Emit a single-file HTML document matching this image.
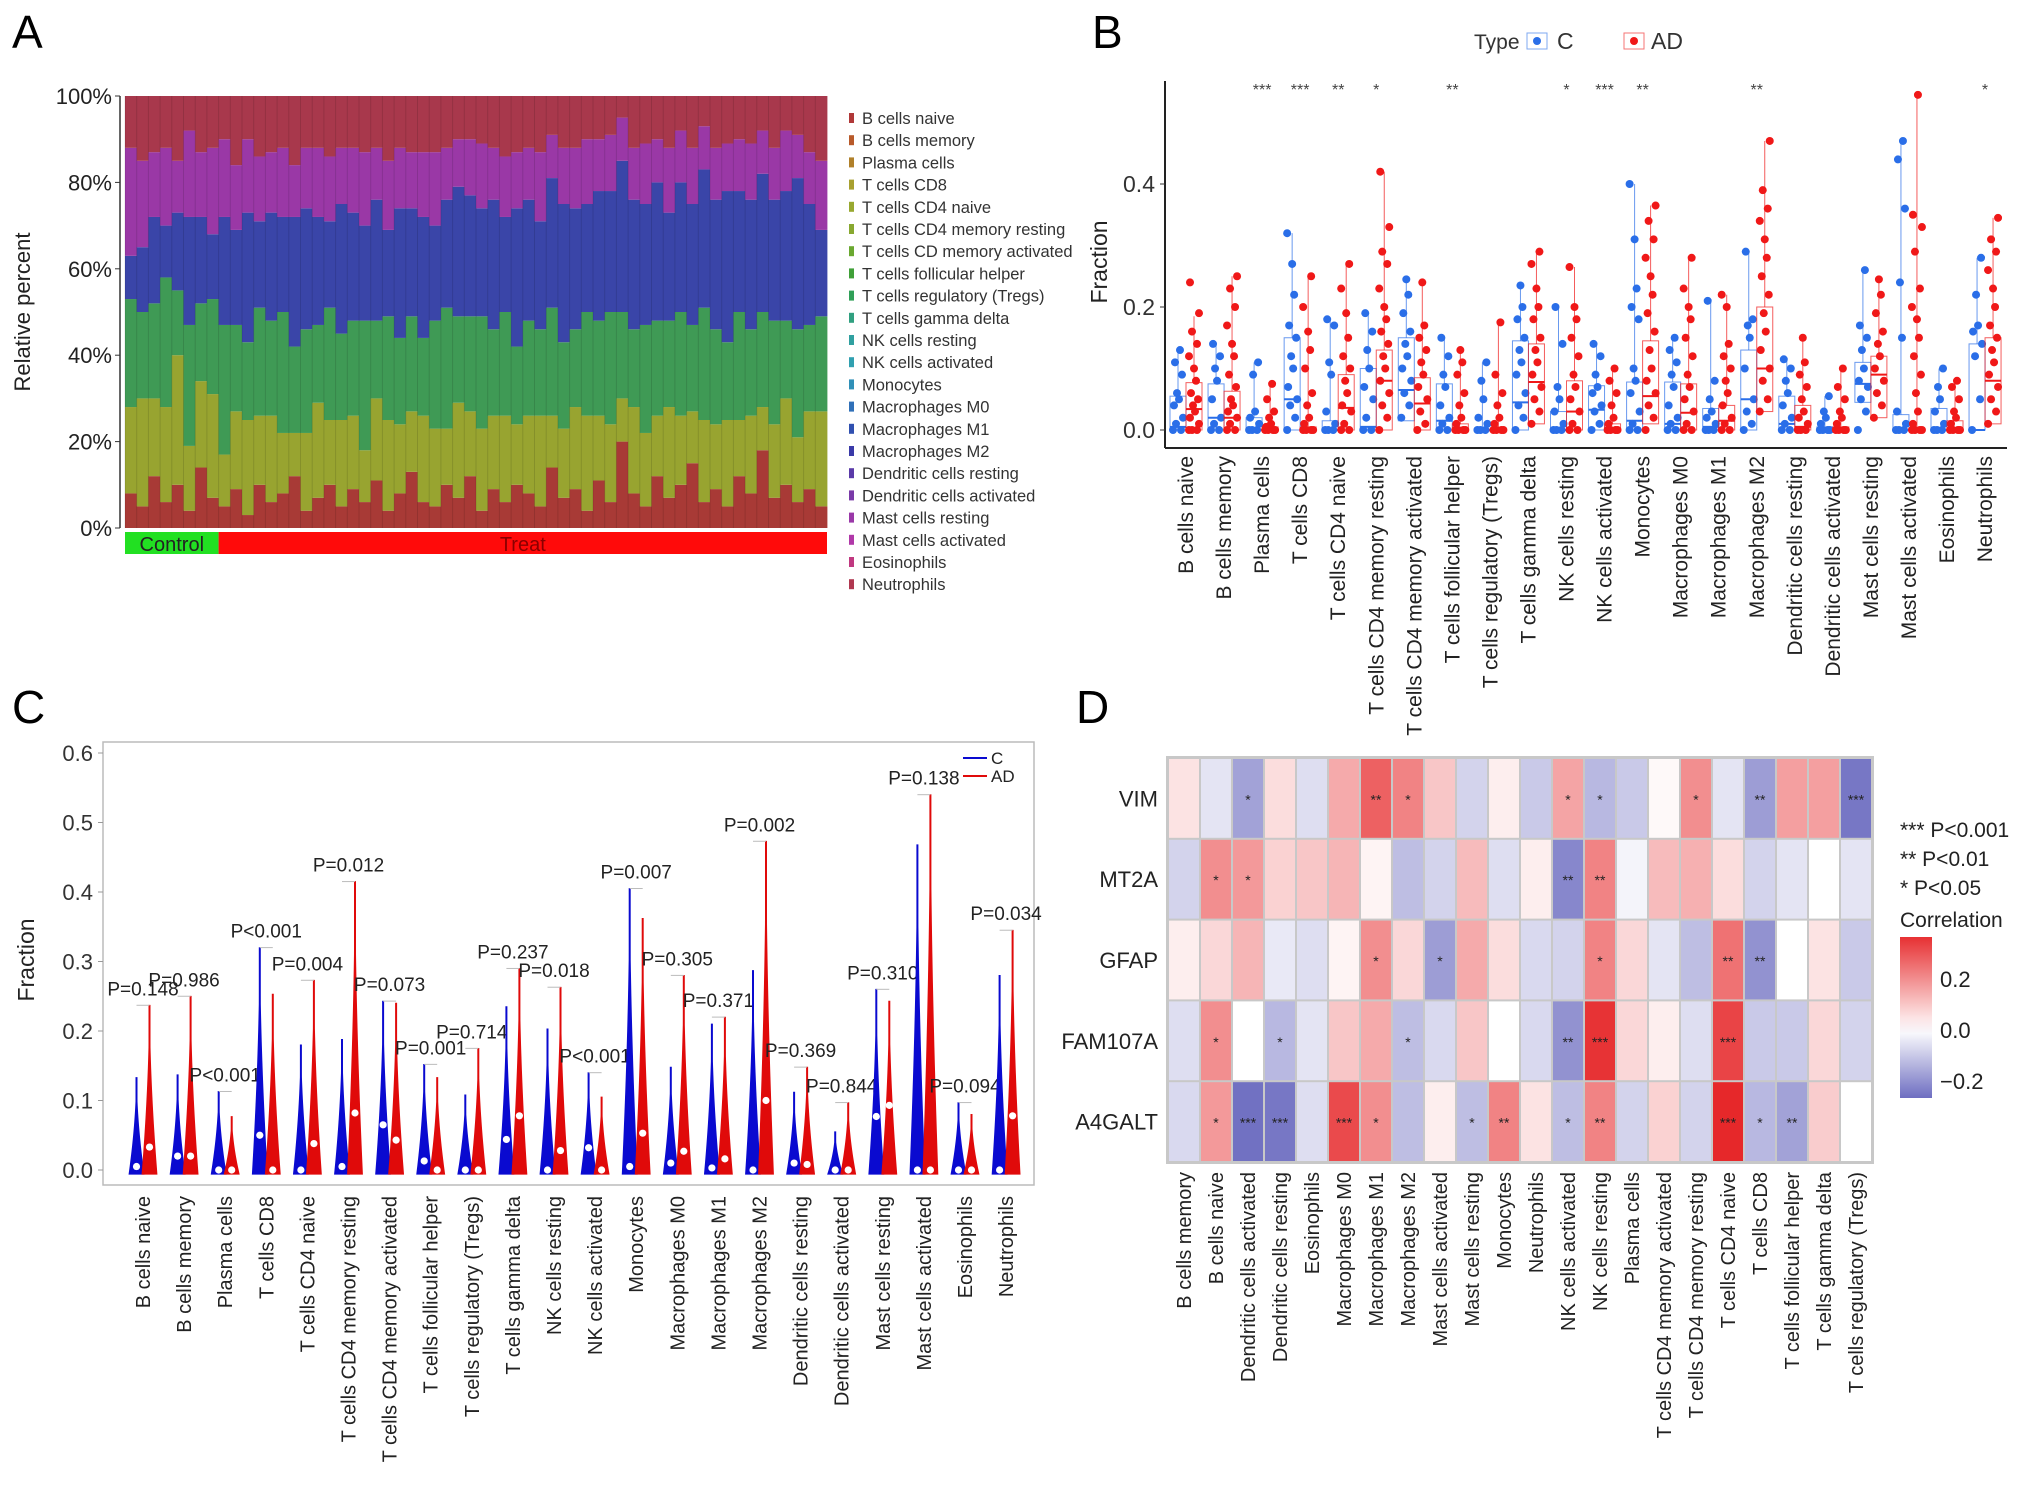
<!DOCTYPE html>
<html><head><meta charset="utf-8"><style>
html,body{margin:0;padding:0;background:#fff}
svg{display:block;font-family:"Liberation Sans",sans-serif}
</style></head><body>
<svg id="fig" width="2032" height="1486" viewBox="0 0 2032 1486" xmlns="http://www.w3.org/2000/svg">
<rect width="2032" height="1486" fill="#fff"/>
<text x="12" y="48" font-size="46">A</text>
<text x="1092" y="48" font-size="46">B</text>
<text x="12" y="723" font-size="46">C</text>
<text x="1076" y="723" font-size="46">D</text>
<g id="pA"></g>
<g id="pB"></g>
<g id="pC"></g>
<g id="pD"></g>
</svg>
<script>
// ---------- shared data ----------
const cellTypes = ["B cells naive","B cells memory","Plasma cells","T cells CD8","T cells CD4 naive","T cells CD4 memory resting","T cells CD4 memory activated","T cells follicular helper","T cells regulatory (Tregs)","T cells gamma delta","NK cells resting","NK cells activated","Monocytes","Macrophages M0","Macrophages M1","Macrophages M2","Dendritic cells resting","Dendritic cells activated","Mast cells resting","Mast cells activated","Eosinophils","Neutrophils"];
const legendA = ["B cells naive","B cells memory","Plasma cells","T cells CD8","T cells CD4 naive","T cells CD4 memory resting","T cells CD memory activated","T cells follicular helper","T cells regulatory (Tregs)","T cells gamma delta","NK cells resting","NK cells activated","Monocytes","Macrophages M0","Macrophages M1","Macrophages M2","Dendritic cells resting","Dendritic cells activated","Mast cells resting","Mast cells activated","Eosinophils","Neutrophils"];
const legendAColors = ["#b03838","#b85a2a","#b0802a","#a8a030","#98a830","#88a830","#6aa830","#40a038","#30a058","#30a080","#30a0a0","#30a0b0","#3090b8","#3070b8","#3050b0","#3a3aa8","#5a3aa8","#7a3aa8","#9a38a8","#b038a8","#c03880","#b03850"];
// Panel A sample layers (fractions)
const nControl = 8;
const layerRed = [.08,.05,.12,.06,.1,.04,.14,.07,.05,.09,.03,.1,.06,.08,.12,.04,.07,.1,.05,.09,.06,.11,.04,.08,.13,.06,.05,.1,.07,.12,.04,.09,.06,.1,.08,.05,.14,.07,.09,.04,.11,.06,.2,.08,.05,.12,.07,.1,.15,.06,.09,.05,.12,.08,.18,.07,.1,.06,.09,.05];
const layerYG = [.2,.25,.18,.22,.3,.15,.2,.24,.12,.18,.22,.16,.2,.14,.1,.18,.22,.15,.2,.17,.12,.19,.21,.16,.14,.2,.18,.13,.22,.15,.19,.17,.2,.14,.18,.21,.12,.16,.19,.22,.15,.18,.1,.2,.17,.14,.21,.16,.12,.19,.15,.2,.13,.18,.1,.17,.2,.15,.18,.22];
const layerGreen = [.25,.2,.22,.3,.15,.28,.18,.22,.3,.2,.18,.25,.22,.28,.2,.24,.18,.26,.2,.22,.3,.18,.24,.2,.22,.18,.25,.28,.2,.22,.26,.2,.24,.18,.22,.2,.25,.2,.18,.24,.22,.26,.2,.18,.25,.22,.2,.24,.2,.26,.22,.18,.25,.2,.22,.24,.18,.25,.2,.22];
const layerBlue = [.1,.15,.2,.12,.18,.25,.2,.15,.25,.22,.3,.2,.25,.22,.3,.28,.25,.2,.3,.25,.22,.28,.2,.3,.25,.28,.22,.25,.3,.28,.25,.3,.22,.32,.28,.25,.3,.32,.28,.25,.3,.28,.35,.3,.28,.32,.25,.3,.28,.32,.3,.35,.28,.3,.32,.28,.3,.35,.28,.2];
const layerPurple = [.25,.2,.15,.18,.12,.2,.15,.2,.18,.15,.17,.15,.14,.16,.12,.14,.16,.15,.13,.15,.17,.12,.16,.14,.13,.15,.17,.12,.11,.13,.15,.12,.14,.13,.12,.16,.1,.13,.14,.15,.12,.13,.1,.12,.14,.1,.15,.12,.13,.1,.12,.11,.12,.13,.1,.12,.14,.1,.12,.16];
const pctTicks = ["0%","20%","40%","60%","80%","100%"];
// Panel B
const bTicks = [0, 0.2, 0.4];
const cQ1 = [0,0,0,0,0,0,.015,0,0,0,0,0,0,0,0,0,0,0,.045,0,0,0];
const cMed = [.005,.02,0,.05,0,.005,.065,.015,0,.045,0,.033,.015,.01,.005,.05,.01,0,.075,0,0,0];
const cQ3 = [.055,.075,.02,.15,.015,.1,.15,.075,0,.145,.03,.072,.078,.078,.035,.13,.055,.005,.11,.025,.035,.14];
const cMax = [.13,.14,.11,.32,.18,.19,.245,.15,.11,.235,.2,.14,.4,.15,.21,.29,.115,.055,.26,.47,.1,.28];
const adQ1 = [0,0,0,0,0,0,0,0,0,.01,0,0,.01,0,0,.03,0,0,.02,0,0,.01];
const adMed = [.034,.02,0,0,.036,.08,.043,0,0,.078,.03,0,.055,.028,.015,.1,.005,0,.09,0,0,.08];
const adQ3 = [.077,.063,.005,.005,.09,.13,.085,.01,0,.14,.08,.01,.145,.075,.04,.2,.04,.005,.12,0,.015,.15];
const adMax = [.185,.25,.075,.25,.27,.42,.24,.13,.175,.29,.265,.1,.365,.28,.22,.47,.15,.1,.245,.545,.08,.345];
const sigB = ["","","***","***","**","*","","**","","","*","***","**","","","**","","","","","","*"];
const cPts = [[0,0,.01,.02,.04,.05,.06,.09,.11,.13],[0,0,.01,.02,.05,.08,.1,.12,.14],[0,0,0,.01,.02,.03,.09,.11],[0,.02,.04,.05,.07,.1,.12,.15,.17,.22,.27,.32],[0,0,0,.01,.03,.09,.11,.17,.18],[0,0,.02,.05,.07,.1,.13,.16,.19],[.02,.04,.06,.08,.1,.12,.14,.16,.19,.22,.245],[0,0,.01,.02,.04,.07,.09,.12,.15],[0,0,0,.01,.02,.05,.08,.11],[0,.02,.04,.06,.09,.11,.13,.15,.18,.2,.235],[0,0,0,.01,.03,.05,.07,.14,.2],[0,.01,.03,.04,.06,.07,.09,.12,.14],[0,0,.01,.03,.06,.08,.1,.18,.2,.23,.31,.4],[0,0,.01,.02,.04,.07,.09,.11,.13,.15],[0,0,0,.01,.02,.03,.05,.08,.21],[0,.01,.03,.05,.1,.15,.17,.18,.29],[0,0,.01,.02,.04,.06,.08,.1,.115],[0,0,0,0,.01,.02,.03,.055],[0,.03,.05,.07,.08,.1,.13,.15,.17,.26],[0,0,0,.01,.03,.15,.24,.36,.44,.47],[0,0,0,.01,.03,.05,.07,.1],[0,.05,.12,.14,.16,.17,.22,.28]];
const adPts = [[0,0,0,.01,.02,.03,.04,.05,.06,.08,.1,.12,.14,.16,.19,.24],[0,0,.01,.02,.03,.04,.05,.07,.09,.12,.14,.17,.2,.23,.25],[0,0,0,0,.005,.01,.02,.03,.05,.075],[0,0,0,0,.01,.02,.04,.06,.1,.13,.16,.2,.25],[0,0,.01,.03,.04,.06,.08,.1,.12,.15,.19,.23,.27],[0,.02,.04,.06,.08,.1,.12,.14,.16,.18,.2,.23,.27,.29,.33,.42],[0,.01,.03,.05,.07,.09,.11,.13,.15,.17,.24],[0,0,0,0,.01,.02,.04,.06,.09,.11,.13],[0,0,0,0,.01,.02,.04,.06,.09,.175],[.01,.03,.05,.07,.09,.11,.13,.15,.18,.2,.23,.27,.29],[0,0,.01,.03,.05,.07,.09,.12,.15,.18,.2,.265],[0,0,0,0,.01,.02,.04,.06,.08,.1],[0,.02,.04,.06,.08,.1,.13,.16,.19,.22,.25,.28,.31,.34,.365],[0,0,.01,.03,.05,.07,.09,.12,.15,.18,.2,.23,.28],[0,0,.01,.02,.04,.06,.08,.1,.12,.14,.2,.22],[.03,.05,.08,.1,.13,.16,.19,.22,.25,.28,.31,.34,.36,.39,.47],[0,0,0,.01,.02,.03,.05,.07,.09,.11,.15],[0,0,0,0,.01,.02,.03,.05,.07,.1],[.02,.04,.06,.08,.1,.12,.14,.16,.19,.22,.245],[0,0,0,0,.01,.03,.06,.09,.12,.15,.18,.2,.23,.29,.33,.35,.545],[0,0,0,0,.01,.02,.03,.05,.07,.08],[.01,.03,.05,.07,.09,.11,.13,.15,.17,.2,.23,.26,.29,.31,.345]];
// Panel C
const cTicks = [0,0.1,0.2,0.3,0.4,0.5,0.6];
const vioCMax = [.133,.137,.113,.32,.18,.188,.243,.152,.108,.235,.203,.14,.405,.148,.21,.287,.112,.055,.26,.468,.097,.28];
const vioCMed = [.005,.02,0,.05,0,.005,.065,.013,0,.044,0,.032,.005,.01,.003,0,.01,0,.077,0,0,0];
const vioADMax = [.237,.25,.077,.253,.273,.415,.24,.133,.175,.29,.263,.105,.362,.28,.22,.473,.148,.097,.243,.54,.08,.345];
const vioADMed = [.033,.02,0,0,.038,.082,.043,0,0,.078,.028,0,.053,.027,.016,.1,.008,0,.093,0,0,.078];
const pLabels = ["P=0.148","P=0.986","P<0.001","P<0.001","P=0.004","P=0.012","P=0.073","P=0.001","P=0.714","P=0.237","P=0.018","P<0.001","P=0.007","P=0.305","P=0.371","P=0.002","P=0.369","P=0.844","P=0.310","P=0.138","P=0.094","P=0.034"];
// Panel D
const genes = ["VIM","MT2A","GFAP","FAM107A","A4GALT"];
const dCols = ["B cells memory","B cells naive","Dendritic cells activated","Dendritic cells resting","Eosinophils","Macrophages M0","Macrophages M1","Macrophages M2","Mast cells activated","Mast cells resting","Monocytes","Neutrophils","NK cells activated","NK cells resting","Plasma cells","T cells CD4 memory activated","T cells CD4 memory resting","T cells CD4 naive","T cells CD8","T cells follicular helper","T cells gamma delta","T cells regulatory (Tregs)"];
const corVIM = [.05,-.05,-.17,.06,-.06,.15,.28,.22,.1,-.08,.03,-.1,.16,-.13,-.1,.01,.2,-.05,-.18,.17,.17,-.25];
const corMT2A = [-.08,.2,.18,.08,.1,.13,.02,-.12,-.08,.12,-.06,.03,-.22,.22,-.02,.12,.14,.06,-.08,-.05,0,-.05];
const corGFAP = [.03,.07,.13,-.04,-.06,.02,.2,.07,-.18,.15,.06,-.07,-.08,.22,.07,-.05,-.12,.25,-.2,0,.05,-.1];
const corFAM = [-.06,.2,0,-.13,-.05,.1,.15,-.12,-.07,.1,0,-.07,-.2,.36,.07,.03,-.06,.33,-.1,-.1,.07,-.08];
const corA4 = [-.07,.18,-.26,-.25,-.06,.32,.2,-.12,.03,-.12,.22,.05,-.12,.22,-.08,.08,-.08,.38,-.13,-.17,.09,0];
const sigVIM = ["","","*","","","","**","*","","","","","*","*","","","*","","**","","","***"];
const sigMT2A = ["","*","*","","","","","","","","","","**","**","","","","","","","",""];
const sigGFAP = ["","","","","","","*","","*","","","","","*","","","","**","**","","",""];
const sigFAM = ["","*","","*","","","","*","","","","","**","***","","","","***","","","",""];
const sigA4 = ["","*","***","***","","***","*","","","*","**","","*","**","","","","***","*","**","",""];
const corTicks = [0.2,0,-0.2];
const corTickLabels = ["0.2","0.0","\u22120.2"];

const NS="http://www.w3.org/2000/svg";
function mk(tag, attrs, parent, txt){const e=document.createElementNS(NS,tag);for(const k in attrs)e.setAttribute(k,attrs[k]);if(txt!==undefined)e.textContent=txt;parent.appendChild(e);return e;}

// ---------- Panel A ----------
(function(){
const g=document.getElementById('pA');
const L=125,R=827,T=96,B=528;
const yA=v=>B-v*(B-T);
const n=layerRed.length, bw=(R-L)/n;
const bandColors=["#a83a36","#98a430","#3f9a55","#3a45a8","#9a38a6","#a8384c"];
for(let i=0;i<n;i++){
  const vals=[layerRed[i],layerYG[i],layerGreen[i],layerBlue[i],layerPurple[i]];
  let sum=vals.reduce((a,b)=>a+b,0); vals.push(Math.max(0,1-sum));
  let acc=0;
  for(let k=0;k<6;k++){
    const r=mk('rect',{x:(L+i*bw).toFixed(2),y:yA(acc+vals[k]).toFixed(2),width:(bw+0.4).toFixed(2),height:(vals[k]*(B-T)).toFixed(2),fill:bandColors[k]},g);
    
    
    acc+=vals[k];
  }
  const sep=mk('line',{x1:L+i*bw,x2:L+i*bw,y1:T,y2:B,stroke:'rgba(0,0,0,0.12)','stroke-width':1},g);
  
  
}
const ax=mk('line',{x1:120,x2:120,y1:T,y2:B,stroke:'#333','stroke-width':1.5},g);

pctTicks.forEach((t,i)=>{const v=i/5;
  const tk=mk('line',{x1:115,x2:120,y1:yA(v),y2:yA(v),stroke:'#333'},g);
  
  const tl=mk('text',{x:112,y:yA(v)+8,'text-anchor':'end','font-size':22,fill:'#222'},g,t);
  
});
const yt=mk('text',{x:0,y:0,transform:'translate(30,312) rotate(-90)','text-anchor':'middle','font-size':22,fill:'#222'},g,'Relative percent');

const cw=nControl*bw;
const cb=mk('rect',{x:L,y:532,width:cw,height:22,fill:'#22e022'},g);

const tb=mk('rect',{x:L+cw,y:532,width:R-L-cw,height:22,fill:'#ff0a0a'},g);

const ct=mk('text',{x:L+cw/2,y:551,'text-anchor':'middle','font-size':20,fill:'#222'},g,'Control');

const tt=mk('text',{x:L+cw+(R-L-cw)/2,y:551,'text-anchor':'middle','font-size':20,fill:'#8a0000'},g,'Treat');

legendA.forEach((s,i)=>{const y=118+i*22.2;
  const m=mk('rect',{x:849,y:y-5,width:5,height:10,fill:legendAColors[i]},g);
  
  const t=mk('text',{x:862,y:y+6,'font-size':16.5,fill:'#333'},g,s);
  
});
})();

// ---------- Panel B ----------
(function(){
const g=document.getElementById('pB');
const L=1165,R=2007,y0=430,pxPer=615; // px per 1.0
const yB=v=>y0-v*pxPer;
const xB=i=>1186+i*38.05;
const a1=mk('line',{x1:L,x2:L,y1:81,y2:448,stroke:'#222','stroke-width':2},g);

const a2=mk('line',{x1:L,x2:R,y1:448,y2:448,stroke:'#222','stroke-width':2},g);

bTicks.forEach(v=>{
  const tl=mk('text',{x:L-10,y:yB(v)+8,'text-anchor':'end','font-size':23,fill:'#333'},g,v.toFixed(1));
  
  const tk=mk('line',{x1:L-5,x2:L,y1:yB(v),y2:yB(v),stroke:'#333'},g);
  
});
const yt=mk('text',{x:0,y:0,transform:'translate(1107,262) rotate(-90)','text-anchor':'middle','font-size':23,fill:'#222'},g,'Fraction');

const jit=[-5,3,-2,5,-4,1,-1,4,-3,2,0,-5,3,-2,5,-4,1];
function box(cx,q1,med,q3,mx,pts,col){
  const w=mk('line',{x1:cx,x2:cx,y1:yB(q3),y2:yB(mx),stroke:col,'stroke-width':1,opacity:0.7},g);
  
  const r=mk('rect',{x:cx-8,y:yB(q3),width:16,height:Math.max(1,yB(q1)-yB(q3)),fill:'none',stroke:col,'stroke-width':1,opacity:0.7},g);
  
  const m=mk('line',{x1:cx-8,x2:cx+8,y1:yB(med),y2:yB(med),stroke:col,'stroke-width':2},g);
  
  pts.forEach((v,k)=>{const c=mk('circle',{cx:cx+jit[k%jit.length],cy:yB(v),r:4,fill:col},g);
    });
}
cellTypes.forEach((c,i)=>{const x=xB(i);
  box(x-8,cQ1[i],cMed[i],cQ3[i],cMax[i],cPts[i],'#2a6ee8');
  box(x+8,adQ1[i],adMed[i],adQ3[i],adMax[i],adPts[i],'#f01818');
  if(sigB[i]){const s=mk('text',{x:x,y:95,'text-anchor':'middle','font-size':16,fill:'#444'},g,sigB[i]);
    }
  const t=mk('text',{x:x+7,y:456,transform:`rotate(-90 ${x+7} 456)`,'text-anchor':'end','font-size':21,fill:'#222'},g,c);
  
});
const lt=mk('text',{x:1474,y:49,'font-size':21,fill:'#333'},g,'Type');

[[1527,'#2a6ee8','C',1557],[1624,'#f01818','AD',1651]].forEach(([x,col,lab,tx])=>{
  const r=mk('rect',{x:x,y:33,width:20,height:16,fill:'none',stroke:col,opacity:0.6},g);
  
  const c=mk('circle',{cx:x+10,cy:41,r:4,fill:col},g);
  
  const t=mk('text',{x:tx,y:49,'font-size':23,fill:'#333'},g,lab);
  
});
})();

// ---------- Panel C ----------
(function(){
const g=document.getElementById('pC');
const L=103,R=1034,T=742,B=1185,y0=1170,pxPer=695;
const yC=v=>y0-v*pxPer;
const xC=i=>143+i*41.1;
const fr=mk('rect',{x:L,y:T,width:R-L,height:B-T,fill:'none',stroke:'#bbb','stroke-width':1.5},g);

cTicks.forEach(v=>{
  const tl=mk('text',{x:L-10,y:yC(v)+8,'text-anchor':'end','font-size':22,fill:'#333'},g,v.toFixed(1));
  
  const tk=mk('line',{x1:L-5,x2:L,y1:yC(v),y2:yC(v),stroke:'#999'},g);
  
});
const yt=mk('text',{x:0,y:0,transform:'translate(34,960) rotate(-90)','text-anchor':'middle','font-size':23,fill:'#222'},g,'Fraction');

function violin(cx,mx,med,col){
  const hw=7.5,steps=24;let left=[],right=[];
  const bot=yC(-0.006);
  for(let s=0;s<=steps;s++){const t=s/steps;const v=-0.006+t*(mx+0.006);
    const w=Math.max(0.6,hw*Math.pow(1-t,1.8));
    left.push(`${(cx-w).toFixed(2)},${yC(v).toFixed(2)}`);right.unshift(`${(cx+w).toFixed(2)},${yC(v).toFixed(2)}`);}
  const p=mk('path',{d:'M'+left.join('L')+'L'+right.join('L')+'Z',fill:col,stroke:col,'stroke-width':0.8},g);
  
  const d=mk('circle',{cx:cx,cy:yC(med),r:3.6,fill:'#fff'},g);
  
}
cellTypes.forEach((c,i)=>{const x=xC(i);
  violin(x-6.5,vioCMax[i],vioCMed[i],'#0a0ad0');
  violin(x+6.5,vioADMax[i],vioADMed[i],'#e00a0a');
  const top=Math.max(vioCMax[i],vioADMax[i]);
  const bl=mk('line',{x1:x-6.5,x2:x+6.5,y1:yC(top),y2:yC(top),stroke:'#bbb'},g);
  
  const pt=mk('text',{x:x,y:yC(top)-10,'text-anchor':'middle','font-size':19,fill:'#222'},g,pLabels[i]);
  
  const t=mk('text',{x:x+7,y:1196,transform:`rotate(-90 ${x+7} 1196)`,'text-anchor':'end','font-size':20,fill:'#222'},g,c);
  
});
[[758,'#0a0ad0','C'],[776,'#e00a0a','AD']].forEach(([y,col,lab])=>{
  const l=mk('line',{x1:963,x2:987,y1:y,y2:y,stroke:col,'stroke-width':2},g);
  
  const t=mk('text',{x:991,y:y+6,'font-size':17,fill:'#222'},g,lab);
  
});
})();

// ---------- Panel D ----------
(function(){
const g=document.getElementById('pD');
const L=1168,R=1872,T=758,B=1162;
const nC=dCols.length,nR=genes.length,cw=(R-L)/nC,rh=(B-T)/nR;
const corRows=[corVIM,corMT2A,corGFAP,corFAM,corA4];
const sigRows=[sigVIM,sigMT2A,sigGFAP,sigFAM,sigA4];
function colorOf(v){
  if(v>=0){const t=Math.min(1,v/0.38);return `rgb(${Math.round(255-t*25)},${Math.round(255-t*215)},${Math.round(255-t*213)})`;}
  const t=Math.min(1,-v/0.27);return `rgb(${Math.round(255-t*147)},${Math.round(255-t*147)},${Math.round(255-t*63)})`;
}
const bg=mk('rect',{x:L-2,y:T-2,width:R-L+4,height:B-T+4,fill:'#c8c8c8'},g);

corRows.forEach((row,r)=>{
  row.forEach((v,c)=>{
    const cell=mk('rect',{x:L+c*cw+1,y:T+r*rh+1,width:cw-2,height:rh-2,fill:colorOf(v)},g);
    
    if(sigRows[r][c]){const s=mk('text',{x:L+c*cw+cw/2,y:T+r*rh+rh/2+6,'text-anchor':'middle','font-size':14,fill:'#222'},g,sigRows[r][c]);
      }
  });
  const rl=mk('text',{x:L-10,y:T+r*rh+rh/2+8,'text-anchor':'end','font-size':22,fill:'#222'},g,genes[r]);
  
});
dCols.forEach((c,i)=>{const x=L+i*cw+cw/2+7;
  const t=mk('text',{x:x,y:1172,transform:`rotate(-90 ${x} 1172)`,'text-anchor':'end','font-size':20,fill:'#222'},g,c);
  
});
["*** P<0.001","** P<0.01","* P<0.05"].forEach((s,i)=>{
  const t=mk('text',{x:1900,y:837+i*29,'font-size':21,fill:'#222'},g,s);
  
});
const ctl=mk('text',{x:1900,y:927,'font-size':21,fill:'#222'},g,'Correlation');

const cbT=937,cbB=1098,zero=1030,per=255; // px per 1.0
const defs=mk('defs',{},g);
const lg=mk('linearGradient',{id:'cbg',x1:0,y1:0,x2:0,y2:1},defs);
for(let k=0;k<=10;k++){const y=cbT+k*(cbB-cbT)/10;const v=(zero-y)/per;
  mk('stop',{offset:k/10,'stop-color':colorOf(v)},lg);}
const cb=mk('rect',{x:1900,y:cbT,width:32,height:cbB-cbT,fill:'url(#cbg)'},g);

corTicks.forEach((v,i)=>{const y=zero-v*per;
  const t=mk('text',{x:1940,y:y+8,'font-size':22,fill:'#222'},g,corTickLabels[i]);
  
});
})();
</script>
</body></html>
